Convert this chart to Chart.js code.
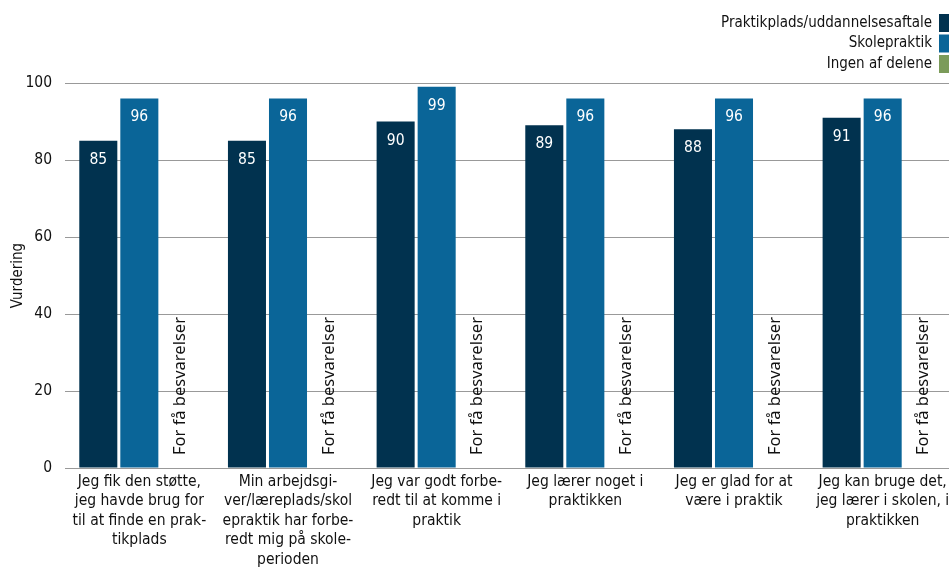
<!DOCTYPE html>
<html>
<head>
<meta charset="utf-8">
<script src="https://cdn.jsdelivr.net/npm/chart.js@4"></script>
<style>
html,body{margin:0;padding:0;background:#fff;overflow:hidden;}
#wrap{width:957px;height:569px;position:relative;}
</style>
</head>
<body>
<div id="wrap"><canvas id="c" width="957" height="569"></canvas></div>
<script>
const categories = [
  ["Jeg fik den støtte,", "jeg havde brug for", "til at finde en prak-", "tikplads"],
  ["Min arbejdsgi-", "ver/læreplads/skol", "epraktik har forbe-", "redt mig på skole-", "perioden"],
  ["Jeg var godt forbe-", "redt til at komme i", "praktik"],
  ["Jeg lærer noget i", "praktikken"],
  ["Jeg er glad for at", "være i praktik"],
  ["Jeg kan bruge det,", "jeg lærer i skolen, i", "praktikken"]
];
const seriesNames = ["Praktikplads/uddannelsesaftale", "Skolepraktik", "Ingen af delene"];
const praktikplads = [85, 85, 90, 89, 88, 91];
const skolepraktik = [96, 96, 99, 96, 96, 96];
const ingenAfDelene = [null, null, null, null, null, null];
const missingNote = "For få besvarelser";
const yTicks = [0, 20, 40, 60, 80, 100];
const yTitle = "Vurdering";
const colors = ["#01324F", "#0A6598", "#7B9B5A"];

const FONT = "'DejaVu Sans Condensed', 'DejaVu Sans', sans-serif";

const valueLabels = {
  id: 'valueLabels',
  afterDatasetsDraw(chart) {
    const ctx = chart.ctx;
    ctx.save();
    ctx.font = "15.5px " + FONT;
    ctx.fillStyle = "#ffffff";
    ctx.textAlign = "center";
    ctx.textBaseline = "middle";
    [0, 1].forEach(di => {
      const meta = chart.getDatasetMeta(di);
      meta.data.forEach((el, i) => {
        const v = chart.data.datasets[di].data[i];
        if (v == null) return;
        ctx.fillText(String(v), el.x, el.y + 19);
      });
    });
    const meta2 = chart.getDatasetMeta(2);
    ctx.font = "16.5px 'Noto Sans', 'Open Sans', sans-serif";
    ctx.fillStyle = "#111";
    ctx.textAlign = "left";
    ctx.textBaseline = "middle";
    meta2.data.forEach((el, i) => {
      if (chart.data.datasets[2].data[i] != null) return;
      ctx.save();
      ctx.translate(el.x, chart.chartArea.bottom - 13);
      ctx.rotate(-Math.PI / 2);
      ctx.fillText(missingNote, 0, 0);
      ctx.restore();
    });
    ctx.restore();
  }
};

const customLegend = {
  id: 'customLegend',
  afterDraw(chart) {
    const ctx = chart.ctx;
    ctx.save();
    ctx.font = "15px " + FONT;
    ctx.textAlign = "right";
    ctx.textBaseline = "middle";
    seriesNames.forEach((name, i) => {
      const yTop = 14 + i * 20.5;
      ctx.fillStyle = colors[i];
      ctx.fillRect(939, yTop, 18, 18);
      ctx.fillStyle = "#111";
      ctx.fillText(name, 932, yTop + 9);
    });
    ctx.restore();
  }
};

new Chart(document.getElementById('c'), {
  type: 'bar',
  data: {
    labels: categories,
    datasets: [
      { label: seriesNames[0], data: praktikplads, backgroundColor: colors[0] },
      { label: seriesNames[1], data: skolepraktik, backgroundColor: colors[1] },
      { label: seriesNames[2], data: ingenAfDelene, backgroundColor: colors[2] }
    ]
  },
  options: {
    responsive: false,
    animation: false,
    devicePixelRatio: 1,
    layout: { padding: { top: 83, left: 0, right: 0, bottom: 0 } },
    datasets: { bar: { categoryPercentage: 0.828, barPercentage: 0.927 } },
    plugins: { legend: { display: false }, tooltip: { enabled: false } },
    scales: {
      x: {
        grid: { display: false, drawTicks: false },
        border: { display: true, color: '#999' },
        ticks: { color: '#111', font: { size: 15.5, family: FONT, lineHeight: 1.26 }, maxRotation: 0, minRotation: 0, autoSkip: false, padding: 4 },
        afterFit(s) { s.height = 101; }
      },
      y: {
        min: 0, max: 100,
        afterBuildTicks(s) { s.ticks = yTicks.map(v => ({ value: v })); },
        grid: { color: '#999', drawTicks: false, lineWidth: 1 },
        border: { display: false },
        ticks: { color: '#111', font: { size: 15.5, family: FONT }, padding: 13 },
        title: { display: true, text: yTitle, color: '#111', font: { size: 15, family: FONT }, padding: { top: 9, bottom: 4 } },
        afterFit(s) { s.width = 65; }
      }
    }
  },
  plugins: [valueLabels, customLegend]
});
</script>
</body>
</html>
